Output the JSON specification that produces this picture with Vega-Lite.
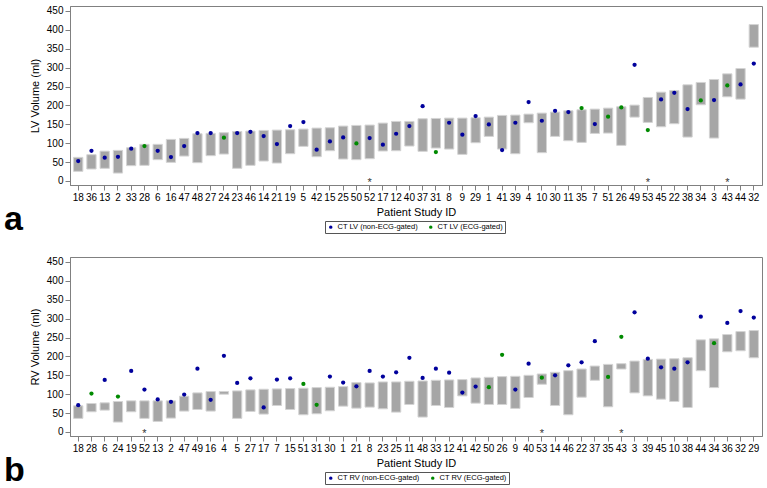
{
  "$schema": "https://vega.github.io/schema/vega-lite/v6.json",
  "background": "white",
  "padding": {"left": 3, "top": 5, "right": 5, "bottom": 0},
  "spacing": 19,
  "datasets": {
    "lv": [
      {"id": 18, "lo": 25.5, "hi": 62.5, "ct": 52.8, "gated": "non-ECG-gated"},
      {"id": 36, "lo": 31.7, "hi": 69.6, "ct": 80, "gated": "non-ECG-gated"},
      {"id": 13, "lo": 33.5, "hi": 79, "ct": 61.6, "gated": "non-ECG-gated"},
      {"id": 2, "lo": 21, "hi": 81, "ct": 64, "gated": "non-ECG-gated"},
      {"id": 33, "lo": 40.5, "hi": 88, "ct": 85.4, "gated": "non-ECG-gated"},
      {"id": 28, "lo": 41.4, "hi": 97, "ct": 92.5, "gated": "ECG-gated"},
      {"id": 6, "lo": 56.4, "hi": 97, "ct": 80, "gated": "non-ECG-gated"},
      {"id": 16, "lo": 49.3, "hi": 110, "ct": 63.4, "gated": "non-ECG-gated"},
      {"id": 47, "lo": 66, "hi": 112.7, "ct": 92.5, "gated": "non-ECG-gated"},
      {"id": 48, "lo": 48.4, "hi": 125, "ct": 126.8, "gated": "non-ECG-gated"},
      {"id": 27, "lo": 67, "hi": 126, "ct": 126.8, "gated": "non-ECG-gated"},
      {"id": 24, "lo": 71.3, "hi": 127.7, "ct": 114.5, "gated": "ECG-gated"},
      {"id": 23, "lo": 33.5, "hi": 131, "ct": 126.8, "gated": "non-ECG-gated"},
      {"id": 46, "lo": 41.4, "hi": 132, "ct": 130, "gated": "non-ECG-gated"},
      {"id": 14, "lo": 52.8, "hi": 133.8, "ct": 118.9, "gated": "non-ECG-gated"},
      {"id": 21, "lo": 47.5, "hi": 134.7, "ct": 97.7, "gated": "non-ECG-gated"},
      {"id": 19, "lo": 72.2, "hi": 135.6, "ct": 145.3, "gated": "non-ECG-gated"},
      {"id": 5, "lo": 91.6, "hi": 137.4, "ct": 155.9, "gated": "non-ECG-gated"},
      {"id": 42, "lo": 64.3, "hi": 140, "ct": 82.8, "gated": "non-ECG-gated"},
      {"id": 15, "lo": 80.1, "hi": 140.9, "ct": 104.8, "gated": "non-ECG-gated"},
      {"id": 25, "lo": 58.1, "hi": 145.3, "ct": 115.4, "gated": "non-ECG-gated"},
      {"id": 50, "lo": 56.4, "hi": 147, "ct": 99.5, "gated": "ECG-gated"},
      {"id": 52, "lo": 59, "hi": 148, "ct": 113.6, "gated": "non-ECG-gated", "star": "*"},
      {"id": 17, "lo": 79.3, "hi": 153.2, "ct": 96, "gated": "non-ECG-gated"},
      {"id": 12, "lo": 80.1, "hi": 157.6, "ct": 125, "gated": "non-ECG-gated"},
      {"id": 40, "lo": 92.5, "hi": 157.6, "ct": 145.3, "gated": "non-ECG-gated"},
      {"id": 37, "lo": 78.4, "hi": 164.7, "ct": 198, "gated": "non-ECG-gated"},
      {"id": 31, "lo": 87.2, "hi": 165.5, "ct": 76.6, "gated": "ECG-gated"},
      {"id": 8, "lo": 84.5, "hi": 166.4, "ct": 154.1, "gated": "non-ECG-gated"},
      {"id": 9, "lo": 70.4, "hi": 166.4, "ct": 122.4, "gated": "non-ECG-gated"},
      {"id": 29, "lo": 101.3, "hi": 167.3, "ct": 171.7, "gated": "non-ECG-gated"},
      {"id": 1, "lo": 118, "hi": 169, "ct": 149.7, "gated": "non-ECG-gated"},
      {"id": 41, "lo": 84.5, "hi": 173.5, "ct": 81.9, "gated": "non-ECG-gated"},
      {"id": 39, "lo": 72.2, "hi": 174.4, "ct": 154.1, "gated": "non-ECG-gated"},
      {"id": 4, "lo": 154.1, "hi": 177, "ct": 208.7, "gated": "non-ECG-gated"},
      {"id": 10, "lo": 74.9, "hi": 179.6, "ct": 159.4, "gated": "non-ECG-gated"},
      {"id": 30, "lo": 118, "hi": 182.3, "ct": 185.8, "gated": "non-ECG-gated"},
      {"id": 11, "lo": 106.6, "hi": 185.8, "ct": 182.3, "gated": "non-ECG-gated"},
      {"id": 35, "lo": 102.1, "hi": 188.4, "ct": 192.8, "gated": "ECG-gated"},
      {"id": 7, "lo": 125.9, "hi": 190.2, "ct": 150.6, "gated": "non-ECG-gated"},
      {"id": 51, "lo": 126.8, "hi": 192.8, "ct": 170, "gated": "ECG-gated"},
      {"id": 26, "lo": 94.2, "hi": 196.4, "ct": 194.6, "gated": "ECG-gated"},
      {"id": 49, "lo": 169, "hi": 200.8, "ct": 307.3, "gated": "non-ECG-gated"},
      {"id": 53, "lo": 155, "hi": 221, "ct": 134.7, "gated": "ECG-gated", "star": "*"},
      {"id": 45, "lo": 143.5, "hi": 235, "ct": 215.7, "gated": "non-ECG-gated"},
      {"id": 22, "lo": 151.5, "hi": 239.5, "ct": 233.4, "gated": "non-ECG-gated"},
      {"id": 38, "lo": 116.2, "hi": 254.5, "ct": 190.2, "gated": "non-ECG-gated"},
      {"id": 34, "lo": 201.7, "hi": 260.7, "ct": 213.1, "gated": "ECG-gated"},
      {"id": 3, "lo": 113.6, "hi": 268.6, "ct": 214, "gated": "non-ECG-gated"},
      {"id": 43, "lo": 222.8, "hi": 283.5, "ct": 252.7, "gated": "ECG-gated", "star": "*"},
      {"id": 44, "lo": 216.6, "hi": 297.6, "ct": 255.4, "gated": "non-ECG-gated"},
      {"id": 32, "lo": 354, "hi": 413.9, "ct": 310.8, "gated": "non-ECG-gated"}
    ],
    "rv": [
      {"id": 18, "lo": 36, "hi": 69.3, "ct": 71, "gated": "non-ECG-gated"},
      {"id": 28, "lo": 53.5, "hi": 75.4, "ct": 101.7, "gated": "ECG-gated"},
      {"id": 6, "lo": 57.9, "hi": 77.2, "ct": 137.7, "gated": "non-ECG-gated"},
      {"id": 24, "lo": 26.3, "hi": 80.7, "ct": 93.8, "gated": "ECG-gated"},
      {"id": 19, "lo": 53.5, "hi": 82.4, "ct": 161.4, "gated": "non-ECG-gated"},
      {"id": 52, "lo": 36, "hi": 82.4, "ct": 112.3, "gated": "non-ECG-gated", "star": "*"},
      {"id": 13, "lo": 28, "hi": 82.4, "ct": 86, "gated": "non-ECG-gated"},
      {"id": 2, "lo": 36.8, "hi": 82.4, "ct": 79.8, "gated": "non-ECG-gated"},
      {"id": 47, "lo": 55.3, "hi": 94.7, "ct": 99.1, "gated": "non-ECG-gated"},
      {"id": 49, "lo": 59.6, "hi": 103.5, "ct": 167.5, "gated": "non-ECG-gated"},
      {"id": 16, "lo": 55.3, "hi": 107, "ct": 85.1, "gated": "non-ECG-gated"},
      {"id": 4, "lo": 100, "hi": 107, "ct": 201.7, "gated": "non-ECG-gated"},
      {"id": 5, "lo": 36, "hi": 108.7, "ct": 129.8, "gated": "non-ECG-gated"},
      {"id": 27, "lo": 54.4, "hi": 111.4, "ct": 142, "gated": "non-ECG-gated"},
      {"id": 17, "lo": 47.4, "hi": 113.1, "ct": 64.9, "gated": "non-ECG-gated"},
      {"id": 7, "lo": 70.2, "hi": 114, "ct": 138.6, "gated": "non-ECG-gated"},
      {"id": 15, "lo": 59.6, "hi": 114.9, "ct": 142, "gated": "non-ECG-gated"},
      {"id": 51, "lo": 45.6, "hi": 115.8, "ct": 127.2, "gated": "ECG-gated"},
      {"id": 31, "lo": 48.2, "hi": 117.5, "ct": 71.9, "gated": "ECG-gated"},
      {"id": 30, "lo": 56.1, "hi": 118.4, "ct": 146.5, "gated": "non-ECG-gated"},
      {"id": 1, "lo": 68.4, "hi": 120.1, "ct": 130.7, "gated": "non-ECG-gated"},
      {"id": 21, "lo": 63.1, "hi": 130.7, "ct": 121, "gated": "non-ECG-gated"},
      {"id": 8, "lo": 65.8, "hi": 129.8, "ct": 161.4, "gated": "non-ECG-gated"},
      {"id": 23, "lo": 61.4, "hi": 132.4, "ct": 146.5, "gated": "non-ECG-gated"},
      {"id": 25, "lo": 52.6, "hi": 132.4, "ct": 157.9, "gated": "non-ECG-gated"},
      {"id": 11, "lo": 72.8, "hi": 134.2, "ct": 196.4, "gated": "non-ECG-gated"},
      {"id": 48, "lo": 39.5, "hi": 135, "ct": 143, "gated": "non-ECG-gated"},
      {"id": 33, "lo": 70.2, "hi": 136.8, "ct": 167.5, "gated": "non-ECG-gated"},
      {"id": 12, "lo": 64.9, "hi": 137.7, "ct": 157, "gated": "non-ECG-gated"},
      {"id": 41, "lo": 95.6, "hi": 138.6, "ct": 104.4, "gated": "non-ECG-gated"},
      {"id": 42, "lo": 76.3, "hi": 143, "ct": 120.1, "gated": "non-ECG-gated"},
      {"id": 50, "lo": 72.8, "hi": 144.7, "ct": 118.4, "gated": "ECG-gated"},
      {"id": 26, "lo": 72.8, "hi": 146.5, "ct": 204.3, "gated": "ECG-gated"},
      {"id": 9, "lo": 62.3, "hi": 147.3, "ct": 112.3, "gated": "non-ECG-gated"},
      {"id": 40, "lo": 91.2, "hi": 150, "ct": 180.7, "gated": "non-ECG-gated"},
      {"id": 53, "lo": 126.3, "hi": 153.5, "ct": 143.8, "gated": "ECG-gated", "star": "*"},
      {"id": 14, "lo": 70.2, "hi": 157.9, "ct": 150, "gated": "non-ECG-gated"},
      {"id": 46, "lo": 45.6, "hi": 162.2, "ct": 176.3, "gated": "non-ECG-gated"},
      {"id": 22, "lo": 92.1, "hi": 166.6, "ct": 184.2, "gated": "non-ECG-gated"},
      {"id": 37, "lo": 136.8, "hi": 174.5, "ct": 240.3, "gated": "non-ECG-gated"},
      {"id": 35, "lo": 66.7, "hi": 178.9, "ct": 145.6, "gated": "ECG-gated"},
      {"id": 43, "lo": 166.6, "hi": 180.7, "ct": 251.7, "gated": "ECG-gated", "star": "*"},
      {"id": 3, "lo": 103.5, "hi": 187.7, "ct": 316.6, "gated": "non-ECG-gated"},
      {"id": 39, "lo": 95.6, "hi": 192.1, "ct": 193.8, "gated": "non-ECG-gated"},
      {"id": 45, "lo": 86.8, "hi": 192.9, "ct": 171, "gated": "non-ECG-gated"},
      {"id": 10, "lo": 80.7, "hi": 193.8, "ct": 167.5, "gated": "non-ECG-gated"},
      {"id": 38, "lo": 64.9, "hi": 196.4, "ct": 184.2, "gated": "non-ECG-gated"},
      {"id": 44, "lo": 162.2, "hi": 243.8, "ct": 305.2, "gated": "non-ECG-gated"},
      {"id": 34, "lo": 117.5, "hi": 246.4, "ct": 235, "gated": "ECG-gated"},
      {"id": 36, "lo": 212.2, "hi": 257.8, "ct": 288.5, "gated": "non-ECG-gated"},
      {"id": 32, "lo": 214.9, "hi": 265.7, "ct": 320.1, "gated": "non-ECG-gated"},
      {"id": 29, "lo": 196.4, "hi": 268.4, "ct": 302.6, "gated": "non-ECG-gated"}
    ]
  },
  "config": {
    "font": "Liberation Sans",
    "view": {"stroke": "#808080", "strokeWidth": 1},
    "axis": {
      "grid": false,
      "labelFont": "Liberation Sans",
      "labelFontSize": 10,
      "labelColor": "#000000",
      "labelOverlap": false,
      "titleFont": "Liberation Sans",
      "titleFontSize": 11,
      "titleFontWeight": "normal",
      "titleColor": "#000000",
      "domainColor": "#808080",
      "tickColor": "#808080",
      "tickSize": 5,
      "labelPadding": 2
    },
    "axisY": {"values": [0, 50, 100, 150, 200, 250, 300, 350, 400, 450], "tickCount": 10, "labelFlush": false, "titlePadding": 6},
    "legend": {
      "labelFont": "Liberation Sans",
      "labelFontSize": 7.5,
      "labelColor": "#000000",
      "symbolType": "circle",
      "symbolSize": 12,
      "symbolStrokeWidth": 0,
      "strokeColor": "#555555",
      "padding": 2,
      "columnPadding": 9,
      "labelOffset": 3
    }
  },
  "resolve": {"scale": {"color": "independent", "x": "independent", "y": "independent"}, "legend": {"color": "independent"}},
  "vconcat": [
    {
      "width": 692,
      "height": 179,
      "data": {"name": "lv"},
      "title": {"text": "a", "orient": "bottom", "anchor": "start", "frame": "group", "fontSize": 34, "fontWeight": "bold", "font": "Liberation Sans", "color": "#000000", "dx": -66, "dy": -31, "offset": 0},
      "encoding": {
        "x": {
          "field": "id", "type": "ordinal",
          "sort": [18,36,13,2,33,28,6,16,47,48,27,24,23,46,14,21,19,5,42,15,25,50,52,17,12,40,37,31,8,9,29,1,41,39,4,10,30,11,35,7,51,26,49,53,45,22,38,34,3,43,44,32],
          "scale": {"paddingInner": 0.3, "paddingOuter": 0.27},
          "axis": {"title": "Patient Study ID", "labelAngle": 0, "titlePadding": 4}
        }
      },
      "layer": [
        {
          "mark": {"type": "bar", "fill": "#a6a6a6", "stroke": "#d4d4d4", "strokeWidth": 1},
          "encoding": {
            "y": {"field": "lo", "type": "quantitative", "scale": {"domain": [-10.6, 463], "nice": false, "zero": false},
                  "axis": {"title": "LV Volume (ml)", "values": [0,50,100,150,200,250,300,350,400,450]}},
            "y2": {"field": "hi"}
          }
        },
        {
          "mark": {"type": "point", "filled": true, "size": 18, "opacity": 1},
          "encoding": {
            "y": {"field": "ct", "type": "quantitative", "scale": {"domain": [-10.6, 463], "nice": false, "zero": false},
                  "axis": {"title": "LV Volume (ml)", "values": [0,50,100,150,200,250,300,350,400,450]}},
            "color": {
              "field": "gated", "type": "nominal",
              "scale": {"domain": ["non-ECG-gated", "ECG-gated"], "range": ["#00009c", "#008a00"]},
              "legend": {"title": null, "orient": "none", "legendX": 255, "legendY": 215, "direction": "horizontal",
                         "labelExpr": "'CT LV (' + datum.label + ')'"}
            }
          }
        },
        {
          "transform": [{"filter": "datum.star"}],
          "mark": {"type": "text", "fontSize": 11, "fill": "#333333", "baseline": "middle", "dy": 3},
          "encoding": {"text": {"field": "star"},
            "y": {"datum": 3, "type": "quantitative", "scale": {"domain": [-10.6, 463], "nice": false, "zero": false},
                  "axis": {"title": "LV Volume (ml)", "values": [0,50,100,150,200,250,300,350,400,450]}}}
        }
      ]
    },
    {
      "width": 692,
      "height": 179,
      "data": {"name": "rv"},
      "title": {"text": "b", "orient": "bottom", "anchor": "start", "frame": "group", "fontSize": 34, "fontWeight": "bold", "font": "Liberation Sans", "color": "#000000", "dx": -66, "dy": -31, "offset": 0},
      "encoding": {
        "x": {
          "field": "id", "type": "ordinal",
          "sort": [18,28,6,24,19,52,13,2,47,49,16,4,5,27,17,7,15,51,31,30,1,21,8,23,25,11,48,33,12,41,42,50,26,9,40,53,14,46,22,37,35,43,3,39,45,10,38,44,34,36,32,29],
          "scale": {"paddingInner": 0.3, "paddingOuter": 0.27},
          "axis": {"title": "Patient Study ID", "labelAngle": 0, "titlePadding": 4}
        }
      },
      "layer": [
        {
          "mark": {"type": "bar", "fill": "#a6a6a6", "stroke": "#d4d4d4", "strokeWidth": 1},
          "encoding": {
            "y": {"field": "lo", "type": "quantitative", "scale": {"domain": [-10.6, 463], "nice": false, "zero": false},
                  "axis": {"title": "RV Volume (ml)", "values": [0,50,100,150,200,250,300,350,400,450]}},
            "y2": {"field": "hi"}
          }
        },
        {
          "mark": {"type": "point", "filled": true, "size": 18, "opacity": 1},
          "encoding": {
            "y": {"field": "ct", "type": "quantitative", "scale": {"domain": [-10.6, 463], "nice": false, "zero": false},
                  "axis": {"title": "RV Volume (ml)", "values": [0,50,100,150,200,250,300,350,400,450]}},
            "color": {
              "field": "gated", "type": "nominal",
              "scale": {"domain": ["non-ECG-gated", "ECG-gated"], "range": ["#00009c", "#008a00"]},
              "legend": {"title": null, "orient": "none", "legendX": 255, "legendY": 215, "direction": "horizontal",
                         "labelExpr": "'CT RV (' + datum.label + ')'"}
            }
          }
        },
        {
          "transform": [{"filter": "datum.star"}],
          "mark": {"type": "text", "fontSize": 11, "fill": "#333333", "baseline": "middle", "dy": 3},
          "encoding": {"text": {"field": "star"},
            "y": {"datum": 3, "type": "quantitative", "scale": {"domain": [-10.6, 463], "nice": false, "zero": false},
                  "axis": {"title": "RV Volume (ml)", "values": [0,50,100,150,200,250,300,350,400,450]}}}
        }
      ]
    }
  ]
}
